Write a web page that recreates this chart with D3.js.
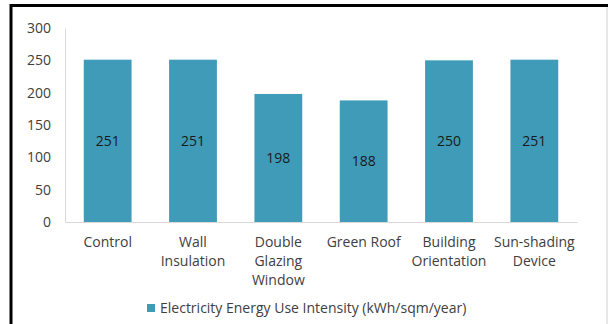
<!DOCTYPE html>
<html>
<head>
<meta charset="utf-8">
<script src="https://cdn.jsdelivr.net/npm/d3@7"></script>
<style>
  body { margin: 0; background: #fff; }
  svg { display: block; font-family: "Open Sans", "Noto Sans", sans-serif; }
</style>
</head>
<body>
<div class="bar_wrapper"></div>
<script>
// chart data
const categories = [
  ["Control"],
  ["Wall", "Insulation"],
  ["Double", "Glazing", "Window"],
  ["Green Roof"],
  ["Building", "Orientation"],
  ["Sun-shading", "Device"]
]
const values = [251, 251, 198, 188, 250, 251]
const yTicks = [0, 50, 100, 150, 200, 250, 300]
const seriesName = "Electricity Energy Use Intensity (kWh/sqm/year)"

let dimensions = {
  width: 608,
  height: 324,
  margin: { top: 28, right: 31, bottom: 102, left: 65 }
}
dimensions.boundedWidth = dimensions.width - dimensions.margin.left - dimensions.margin.right
dimensions.boundedHeight = dimensions.height - dimensions.margin.top - dimensions.margin.bottom

const wrapper = d3.select(".bar_wrapper")
  .append("svg")
  .attr("width", dimensions.width)
  .attr("height", dimensions.height)

// frame around the picture
wrapper.append("line")
  .attr("x1", 11).attr("x2", 608).attr("y1", 5.5).attr("y2", 5.5)
  .attr("stroke", "#000").attr("stroke-width", 3)
wrapper.append("line")
  .attr("x1", 11).attr("x2", 11).attr("y1", 4).attr("y2", 324)
  .attr("stroke", "#000").attr("stroke-width", 3)
wrapper.append("line")
  .attr("x1", 607).attr("x2", 607).attr("y1", 7).attr("y2", 324)
  .attr("stroke", "#d0d0d0").attr("stroke-width", 1)

const bounds = wrapper.append("g")
  .attr("transform", `translate(${dimensions.margin.left}, ${dimensions.margin.top})`)

const idx = d3.range(values.length)

const xScale = d3.scaleBand()
  .domain(idx)
  .range([0, dimensions.boundedWidth])
  .paddingInner(0.44)
  .paddingOuter(0.22)

const yScale = d3.scaleLinear()
  .domain([0, 300])
  .range([dimensions.boundedHeight, 0])

// y axis
const yAxis = d3.axisLeft(yScale)
  .tickValues(yTicks)
  .tickSize(0)
  .tickPadding(14)

const yAxisG = bounds.append("g").call(yAxis)
yAxisG.select(".domain").attr("stroke", "#d9d9d9")
yAxisG.selectAll("text")
  .attr("fill", "#404040")
  .style("font-size", "14px")
  .style("font-family", "\"Open Sans\", sans-serif")

// bars
bounds.selectAll("rect.bar")
  .data(idx)
  .enter()
  .append("rect")
    .attr("class", "bar")
    .attr("x", i => xScale(i))
    .attr("width", xScale.bandwidth())
    .attr("y", i => yScale(values[i]))
    .attr("height", i => yScale(0) - yScale(values[i]))
    .attr("fill", "#3f9bb8")

// x axis baseline
const xAxis = d3.axisBottom(xScale).tickSize(0).tickFormat("")
const xAxisG = bounds.append("g")
  .attr("transform", `translate(0, ${dimensions.boundedHeight})`)
  .call(xAxis)
xAxisG.select(".domain").attr("stroke", "#d9d9d9")

// value labels
bounds.selectAll("text.val")
  .data(idx)
  .enter()
  .append("text")
    .attr("class", "val")
    .attr("x", i => xScale(i) + xScale.bandwidth() / 2)
    .attr("y", i => (yScale(values[i]) + yScale(0)) / 2)
    .attr("text-anchor", "middle")
    .attr("dy", "0.35em")
    .attr("fill", "#1a1a1a")
    .style("font-size", "14px")
    .text(i => values[i])

// category labels
const catLabels = bounds.selectAll("text.cat")
  .data(idx)
  .enter()
  .append("text")
    .attr("class", "cat")
    .attr("text-anchor", "middle")
    .attr("fill", "#404040")
    .style("font-size", "14px")
    .attr("transform", i => `translate(${xScale(i) + xScale.bandwidth() / 2}, ${dimensions.boundedHeight + 25})`)

catLabels.selectAll("tspan")
  .data(i => categories[i])
  .enter()
  .append("tspan")
    .attr("x", 0)
    .attr("y", (d, j) => j * 19)
    .text(d => d)

// legend
const legend = wrapper.append("g")
  .attr("transform", "translate(147, 308)")
legend.append("rect")
  .attr("x", 0).attr("y", -4)
  .attr("width", 8).attr("height", 8)
  .attr("fill", "#3f9bb8")
legend.append("text")
  .attr("x", 13)
  .attr("dy", "0.35em")
  .attr("fill", "#404040")
  .style("font-size", "14px")
  .text(seriesName)
</script>
</body>
</html>
